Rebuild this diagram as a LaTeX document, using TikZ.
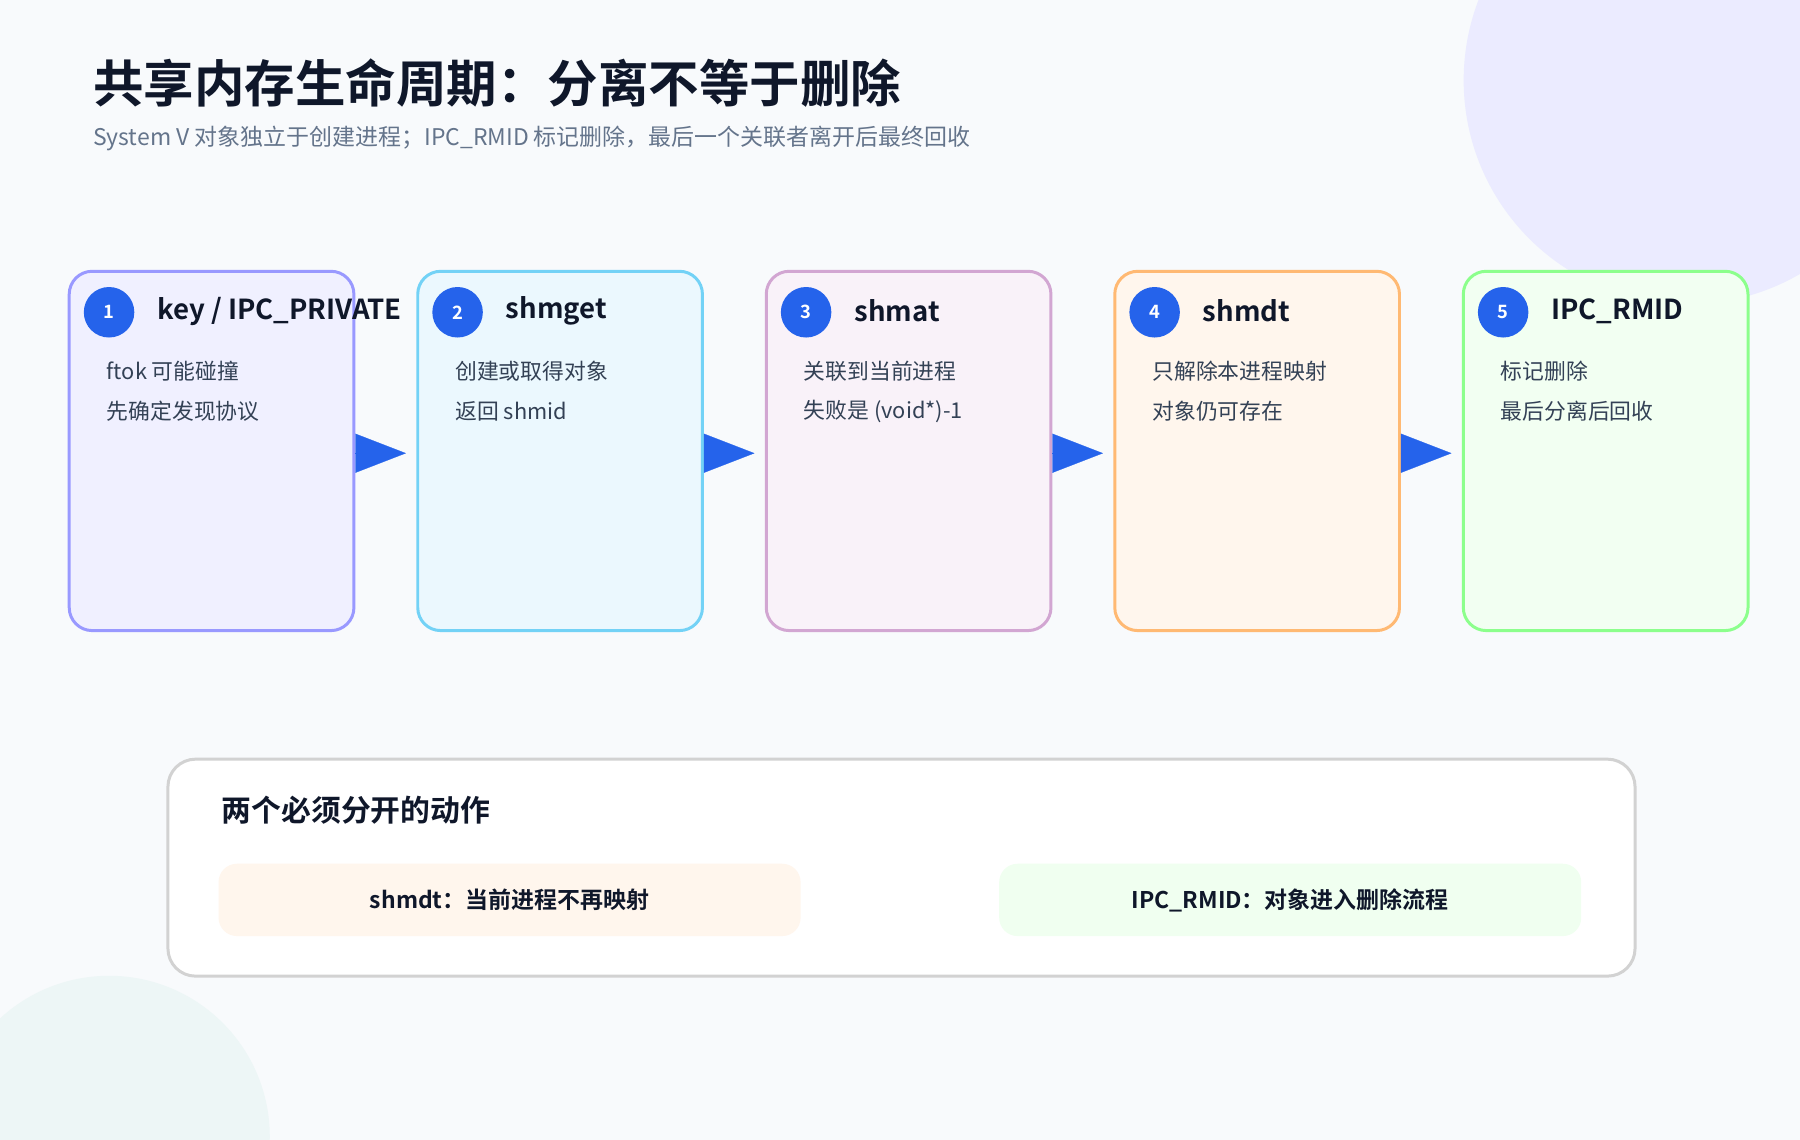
\documentclass[tikz,border=0pt]{standalone}
\usepackage{fontspec}
\setmainfont{Noto Sans CJK SC}[BoldFont={Noto Sans CJK SC Bold}]
\usepackage{tikz}
\usetikzlibrary{positioning,arrows.meta}
\definecolor{bgc}{HTML}{F8FAFC}
\definecolor{ink}{HTML}{0F172A}
\definecolor{subc}{HTML}{64748B}
\definecolor{txtc}{HTML}{334155}
\definecolor{numc}{HTML}{2563EB}
\tikzset{
  step/.style 2 args={rectangle, rounded corners=10pt, draw=#1, fill=#2, line width=1.3pt,
    minimum width=124pt, minimum height=156.5pt, inner sep=0pt},
  num/.style={circle, fill=numc, text=white, minimum size=22pt, inner sep=0pt, font=\bfseries\fontsize{8}{9}\selectfont},
  head/.style={anchor=west, text=ink, font=\bfseries\fontsize{12}{14}\selectfont},
  line/.style={anchor=west, text=txtc, font=\fontsize{9.5}{11}\selectfont},
  pill/.style={rectangle, rounded corners=8pt, minimum width=253.5pt, minimum height=31.5pt, inner sep=0pt,
    text=ink, font=\bfseries\fontsize{10}{12}\selectfont},
  flow/.style={-{Triangle[length=22pt,width=17pt]}, numc, line width=0.1pt, shorten >=4.5pt}
}
\begin{document}
\begin{tikzpicture}[x=0.5pt,y=-0.5pt]
  \useasboundingbox (0,0) rectangle (1568,993);
  \fill[bgc] (0,0) rectangle (1568,993);
  \begin{scope}
    \clip (0,0) rectangle (1568,993);
    \fill[blue!8] (1470,70) circle (195);
    \fill[teal!7] (95,990) circle (140);
  \end{scope}

  %% title
  \node (title) [anchor=west, text=ink, font=\bfseries\fontsize{22}{26}\selectfont] at (74,72) {共享内存生命周期：分离不等于删除};
  \node (sub) [anchor=west, text=subc, font=\fontsize{10}{12}\selectfont] at (74,121) {System V 对象独立于创建进程；IPC\_RMID 标记删除，最后一个关联者离开后最终回收};

  %% steps
  \node (b1) [step={blue!40}{blue!6}, anchor=north west] at (59,235) {};
  \node (b2) [step={cyan!55}{cyan!8}, right=26.5pt of b1] {};
  \node (b3) [step={violet!35}{violet!5}, right=26.5pt of b2] {};
  \node (b4) [step={orange!55}{orange!7}, right=26.5pt of b3] {};
  \node (b5) [step={green!45}{green!5}, right=26.5pt of b4] {};

  \foreach \i/\t/\a/\b in {1/{key / IPC\_PRIVATE}/{ftok 可能碰撞}/{先确定发现协议},
      2/shmget/{创建或取得对象}/{返回 shmid},
      3/shmat/{关联到当前进程}/{失败是 (void*)-1},
      4/shmdt/{只解除本进程映射}/{对象仍可存在},
      5/IPC\_RMID/{标记删除}/{最后分离后回收}} {
    \node (n\i) [num] at ([xshift=18pt,yshift=-18.5pt]b\i.north west) {\i};
    \node (h\i) [head] at ([xshift=35.5pt,yshift=-18pt]b\i.north west) {\t};
    \node (l\i) [line] at ([xshift=13.5pt,yshift=-44pt]b\i.north west) {\a};
    \node (m\i) [line] at ([xshift=13.5pt,yshift=-61.5pt]b\i.north west) {\b};
  }

  %% connectors
  \draw[flow] ([yshift=-1pt]b1.east) -- ([yshift=-1pt]b2.west);
  \draw[flow] ([yshift=-1pt]b2.east) -- ([yshift=-1pt]b3.west);
  \draw[flow] ([yshift=-1pt]b3.east) -- ([yshift=-1pt]b4.west);
  \draw[flow] ([yshift=-1pt]b4.east) -- ([yshift=-1pt]b5.west);

  %% bottom note
  \node (note) [rectangle, rounded corners=12pt, draw=gray!35, line width=1.3pt, fill=white,
    minimum width=639pt, minimum height=94.5pt, anchor=north west] at (145,660) {};
  \node (nh) [anchor=west, text=ink, font=\bfseries\fontsize{13}{15}\selectfont] at (186,706) {两个必须分开的动作};
  \node (p1) [pill, fill=orange!7, anchor=north west] at (190,752) {shmdt：当前进程不再映射};
  \node (p2) [pill, fill=green!6, anchor=north west] at (870,752) {IPC\_RMID：对象进入删除流程};
\end{tikzpicture}
\end{document}
